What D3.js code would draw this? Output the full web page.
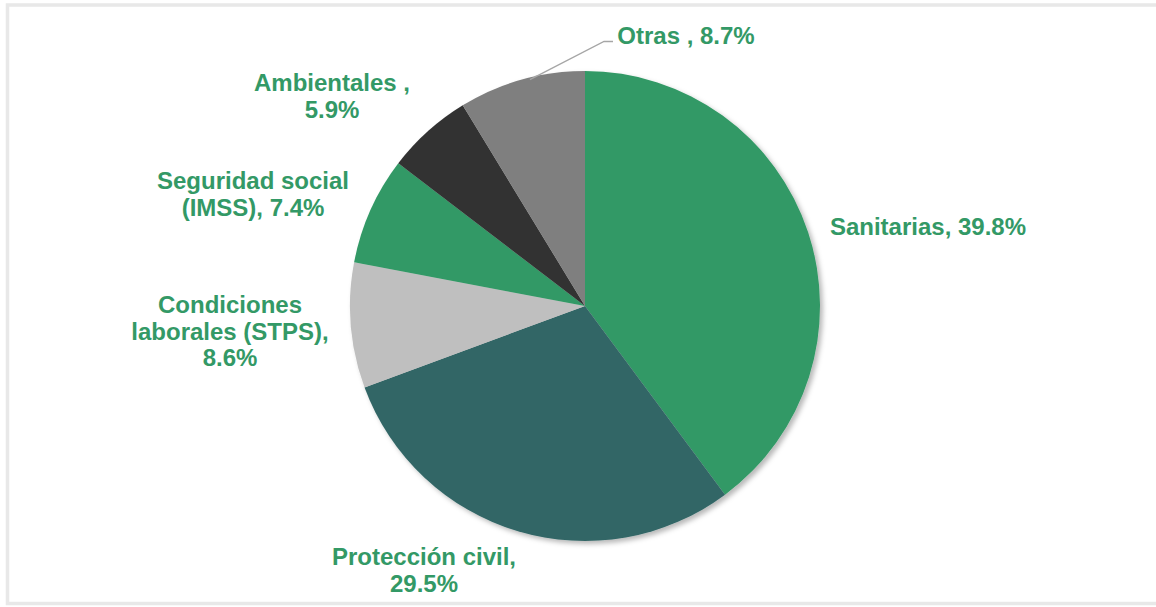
<!DOCTYPE html>
<html>
<head>
<meta charset="utf-8">
<script src="https://cdn.jsdelivr.net/npm/d3@7"></script>
<style>
  html, body { margin: 0; padding: 0; background: #ffffff; }
  svg { display: block; }
  text { font-family: "Liberation Sans", Arial, sans-serif; font-weight: bold; }
</style>
</head>
<body>
<svg id="chart" width="1156" height="607"></svg>
<script>
// ---- data ----
const categories = ["Sanitarias", "Protección civil", "Condiciones laborales (STPS)", "Seguridad social (IMSS)", "Ambientales", "Otras"];
const values = [39.8, 29.5, 8.6, 7.4, 5.9, 8.7];
const labelLines = [
  ["Sanitarias, 39.8%"],
  ["Protección civil,", "29.5%"],
  ["Condiciones", "laborales (STPS),", "8.6%"],
  ["Seguridad social", "(IMSS), 7.4%"],
  ["Ambientales ,", "5.9%"],
  ["Otras , 8.7%"]
];
const colors = ["#339966", "#336666", "#bfbfbf", "#339966", "#333333", "#7f7f7f"];

// ---- layout (label block centres relative to pie centre) ----
const labelOffsets = [[343, -80], [-161, 264], [-355, 25], [-332, -112], [-253, -210], [101, -271]];

const svg = d3.select("#chart");
const W = 1156, H = 607;
const cx = 585, cy = 306, R = 235;
const lineH = 26.5;

// frame
svg.append("rect").attr("x", 7.5).attr("y", 5).attr("width", 1160).attr("height", 598.5)
  .attr("fill", "none").attr("stroke", "#e8e8e8").attr("stroke-width", 3.5);

const defs = svg.append("defs");
const f = defs.append("filter").attr("id", "shadow").attr("x", "-10%").attr("y", "-10%").attr("width", "120%").attr("height", "120%");
f.append("feDropShadow").attr("dx", 3).attr("dy", 3).attr("stdDeviation", 2.5)
  .attr("flood-color", "#000").attr("flood-opacity", 0.28);

const pie = d3.pie().sort(null).value(d => d)(values);
const arc = d3.arc().innerRadius(0).outerRadius(R);

const g = svg.append("g").attr("transform", `translate(${cx},${cy})`);
const slices = g.append("g").attr("filter", "url(#shadow)");
slices.selectAll("path").data(pie).enter().append("path")
  .attr("d", arc)
  .attr("fill", (d, i) => colors[i]);

// leader line for "Otras"
const otras = pie[5];
const mid = (otras.startAngle + otras.endAngle) / 2 + 0.035;
const p0 = [(R - 2) * Math.sin(mid), -(R - 2) * Math.cos(mid)];
g.append("polyline")
  .attr("points", [p0, [19, -264.5], [28, -264.5]].map(p => p.join(",")).join(" "))
  .attr("fill", "none").attr("stroke", "#a6a6a6").attr("stroke-width", 1.3);

// labels
const labels = g.selectAll("g.lbl").data(pie).enter().append("g").attr("class", "lbl")
  .attr("transform", (d, i) => `translate(${labelOffsets[i][0]},${labelOffsets[i][1]})`);
labels.each(function(d, i) {
  const lines = labelLines[i];
  const n = lines.length;
  const t = d3.select(this).append("text")
    .attr("text-anchor", "middle")
    .attr("fill", "#339966")
    .attr("font-size", 24);
  lines.forEach((s, k) => {
    t.append("tspan").attr("x", 0)
      .attr("y", (k - (n - 1) / 2) * lineH)
      .attr("dy", "0.36em")
      .text(s);
  });
});
</script>
</body>
</html>
